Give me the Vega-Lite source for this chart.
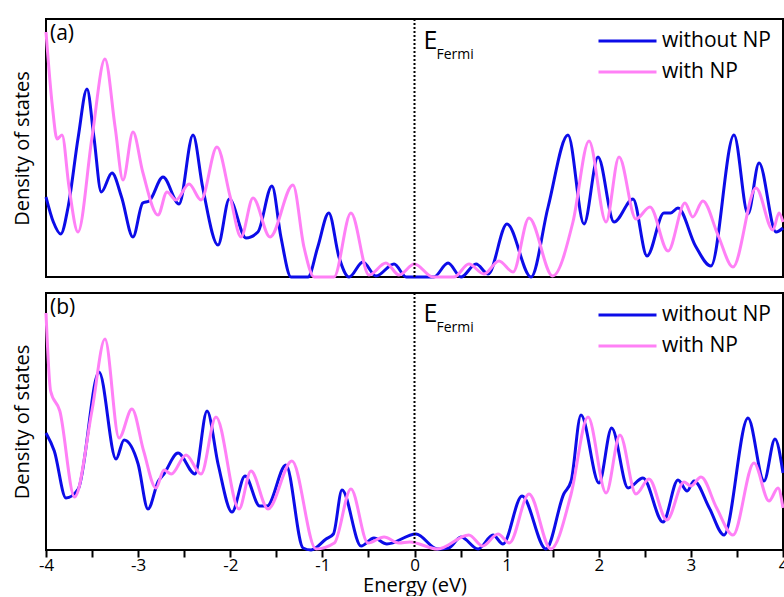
{
  "$schema": "https://vega.github.io/schema/vega-lite/v6.json",
  "background": "white",
  "padding": {"left": 11, "top": 17, "right": 2, "bottom": 0},
  "config": {
    "font": "Open Sans",
    "view": {"stroke": "black", "strokeWidth": 2},
    "axis": {"labelColor": "black", "titleColor": "black", "titleFontWeight": "normal", "grid": false},
    "concat": {"spacing": 7}
  },
  "datasets": {
    "a": [
      {"E": -4.0, "dos": 80, "s": "without NP"}, {"E": -3.92, "dos": 55, "s": "without NP"}, {"E": -3.84, "dos": 43, "s": "without NP"}, {"E": -3.76, "dos": 70, "s": "without NP"}, {"E": -3.65, "dos": 140, "s": "without NP"}, {"E": -3.555, "dos": 188, "s": "without NP"}, {"E": -3.48, "dos": 140, "s": "without NP"}, {"E": -3.40, "dos": 85, "s": "without NP"}, {"E": -3.284, "dos": 104, "s": "without NP"}, {"E": -3.18, "dos": 80, "s": "without NP"}, {"E": -3.056, "dos": 40, "s": "without NP"}, {"E": -2.95, "dos": 74, "s": "without NP"}, {"E": -2.88, "dos": 76, "s": "without NP"}, {"E": -2.73, "dos": 100, "s": "without NP"}, {"E": -2.556, "dos": 73, "s": "without NP"}, {"E": -2.404, "dos": 142, "s": "without NP"}, {"E": -2.30, "dos": 90, "s": "without NP"}, {"E": -2.133, "dos": 32, "s": "without NP"}, {"E": -2.01, "dos": 78, "s": "without NP"}, {"E": -1.829, "dos": 39, "s": "without NP"}, {"E": -1.70, "dos": 45, "s": "without NP"}, {"E": -1.547, "dos": 91, "s": "without NP"}, {"E": -1.45, "dos": 40, "s": "without NP"}, {"E": -1.34, "dos": 0, "s": "without NP"}, {"E": -1.156, "dos": 0, "s": "without NP"}, {"E": -1.05, "dos": 30, "s": "without NP"}, {"E": -0.93, "dos": 64, "s": "without NP"}, {"E": -0.82, "dos": 20, "s": "without NP"}, {"E": -0.71, "dos": 0, "s": "without NP"}, {"E": -0.56, "dos": 15, "s": "without NP"}, {"E": -0.418, "dos": 1, "s": "without NP"}, {"E": -0.222, "dos": 13, "s": "without NP"}, {"E": -0.09, "dos": 0, "s": "without NP"}, {"E": 0.21, "dos": 0, "s": "without NP"}, {"E": 0.364, "dos": 14, "s": "without NP"}, {"E": 0.505, "dos": 0, "s": "without NP"}, {"E": 0.668, "dos": 13, "s": "without NP"}, {"E": 0.80, "dos": 3, "s": "without NP"}, {"E": 1.004, "dos": 53, "s": "without NP"}, {"E": 1.265, "dos": 0, "s": "without NP"}, {"E": 1.45, "dos": 70, "s": "without NP"}, {"E": 1.666, "dos": 142, "s": "without NP"}, {"E": 1.84, "dos": 53, "s": "without NP"}, {"E": 1.992, "dos": 120, "s": "without NP"}, {"E": 2.166, "dos": 55, "s": "without NP"}, {"E": 2.372, "dos": 78, "s": "without NP"}, {"E": 2.524, "dos": 21, "s": "without NP"}, {"E": 2.708, "dos": 64, "s": "without NP"}, {"E": 2.78, "dos": 64, "s": "without NP"}, {"E": 2.86, "dos": 69, "s": "without NP"}, {"E": 3.05, "dos": 31, "s": "without NP"}, {"E": 3.218, "dos": 11, "s": "without NP"}, {"E": 3.468, "dos": 142, "s": "without NP"}, {"E": 3.62, "dos": 63, "s": "without NP"}, {"E": 3.74, "dos": 114, "s": "without NP"}, {"E": 3.924, "dos": 45, "s": "without NP"}, {"E": 4.0, "dos": 49, "s": "without NP"},
      {"E": -4.0, "dos": 245, "s": "with NP"}, {"E": -3.93, "dos": 170, "s": "with NP"}, {"E": -3.88, "dos": 138, "s": "with NP"}, {"E": -3.826, "dos": 142, "s": "with NP"}, {"E": -3.75, "dos": 90, "s": "with NP"}, {"E": -3.653, "dos": 45, "s": "with NP"}, {"E": -3.5, "dos": 140, "s": "with NP"}, {"E": -3.36, "dos": 218, "s": "with NP"}, {"E": -3.25, "dos": 150, "s": "with NP"}, {"E": -3.164, "dos": 97, "s": "with NP"}, {"E": -3.056, "dos": 145, "s": "with NP"}, {"E": -2.95, "dos": 105, "s": "with NP"}, {"E": -2.784, "dos": 62, "s": "with NP"}, {"E": -2.687, "dos": 85, "s": "with NP"}, {"E": -2.589, "dos": 77, "s": "with NP"}, {"E": -2.447, "dos": 93, "s": "with NP"}, {"E": -2.317, "dos": 77, "s": "with NP"}, {"E": -2.144, "dos": 130, "s": "with NP"}, {"E": -2.0, "dos": 80, "s": "with NP"}, {"E": -1.883, "dos": 40, "s": "with NP"}, {"E": -1.753, "dos": 79, "s": "with NP"}, {"E": -1.568, "dos": 40, "s": "with NP"}, {"E": -1.319, "dos": 92, "s": "with NP"}, {"E": -1.2, "dos": 30, "s": "with NP"}, {"E": -1.09, "dos": 0, "s": "with NP"}, {"E": -0.874, "dos": 0, "s": "with NP"}, {"E": -0.69, "dos": 64, "s": "with NP"}, {"E": -0.494, "dos": 2, "s": "with NP"}, {"E": -0.31, "dos": 14, "s": "with NP"}, {"E": -0.168, "dos": 2, "s": "with NP"}, {"E": 0.0, "dos": 13, "s": "with NP"}, {"E": 0.2, "dos": 0, "s": "with NP"}, {"E": 0.43, "dos": 0, "s": "with NP"}, {"E": 0.59, "dos": 13, "s": "with NP"}, {"E": 0.754, "dos": 3, "s": "with NP"}, {"E": 0.917, "dos": 16, "s": "with NP"}, {"E": 1.07, "dos": 5, "s": "with NP"}, {"E": 1.243, "dos": 59, "s": "with NP"}, {"E": 1.50, "dos": 1, "s": "with NP"}, {"E": 1.72, "dos": 55, "s": "with NP"}, {"E": 1.894, "dos": 136, "s": "with NP"}, {"E": 2.079, "dos": 55, "s": "with NP"}, {"E": 2.22, "dos": 120, "s": "with NP"}, {"E": 2.404, "dos": 58, "s": "with NP"}, {"E": 2.556, "dos": 70, "s": "with NP"}, {"E": 2.752, "dos": 26, "s": "with NP"}, {"E": 2.936, "dos": 74, "s": "with NP"}, {"E": 3.02, "dos": 60, "s": "with NP"}, {"E": 3.13, "dos": 76, "s": "with NP"}, {"E": 3.294, "dos": 42, "s": "with NP"}, {"E": 3.457, "dos": 10, "s": "with NP"}, {"E": 3.707, "dos": 89, "s": "with NP"}, {"E": 3.89, "dos": 47, "s": "with NP"}, {"E": 3.957, "dos": 64, "s": "with NP"}, {"E": 4.0, "dos": 55, "s": "with NP"}
    ],
    "b": [
      {"E": -4.0, "dos": 117, "s": "without NP"}, {"E": -3.91, "dos": 99, "s": "without NP"}, {"E": -3.783, "dos": 52, "s": "without NP"}, {"E": -3.65, "dos": 61, "s": "without NP"}, {"E": -3.424, "dos": 178, "s": "without NP"}, {"E": -3.24, "dos": 91, "s": "without NP"}, {"E": -3.153, "dos": 110, "s": "without NP"}, {"E": -3.0, "dos": 86, "s": "without NP"}, {"E": -2.893, "dos": 41, "s": "without NP"}, {"E": -2.78, "dos": 69, "s": "without NP"}, {"E": -2.72, "dos": 76, "s": "without NP"}, {"E": -2.567, "dos": 97, "s": "without NP"}, {"E": -2.383, "dos": 76, "s": "without NP"}, {"E": -2.252, "dos": 139, "s": "without NP"}, {"E": -2.13, "dos": 85, "s": "without NP"}, {"E": -1.981, "dos": 38, "s": "without NP"}, {"E": -1.84, "dos": 74, "s": "without NP"}, {"E": -1.68, "dos": 44, "s": "without NP"}, {"E": -1.6, "dos": 44, "s": "without NP"}, {"E": -1.395, "dos": 85, "s": "without NP"}, {"E": -1.21, "dos": 2, "s": "without NP"}, {"E": -1.123, "dos": 0, "s": "without NP"}, {"E": -0.96, "dos": 11, "s": "without NP"}, {"E": -0.88, "dos": 16, "s": "without NP"}, {"E": -0.787, "dos": 60, "s": "without NP"}, {"E": -0.58, "dos": 4, "s": "without NP"}, {"E": -0.44, "dos": 12, "s": "without NP"}, {"E": -0.3, "dos": 6, "s": "without NP"}, {"E": 0.016, "dos": 16, "s": "without NP"}, {"E": 0.25, "dos": 1, "s": "without NP"}, {"E": 0.37, "dos": 2, "s": "without NP"}, {"E": 0.505, "dos": 13, "s": "without NP"}, {"E": 0.69, "dos": 1, "s": "without NP"}, {"E": 0.852, "dos": 15, "s": "without NP"}, {"E": 0.96, "dos": 6, "s": "without NP"}, {"E": 1.167, "dos": 54, "s": "without NP"}, {"E": 1.427, "dos": 1, "s": "without NP"}, {"E": 1.62, "dos": 56, "s": "without NP"}, {"E": 1.70, "dos": 69, "s": "without NP"}, {"E": 1.807, "dos": 135, "s": "without NP"}, {"E": 2.003, "dos": 67, "s": "without NP"}, {"E": 2.14, "dos": 122, "s": "without NP"}, {"E": 2.318, "dos": 62, "s": "without NP"}, {"E": 2.48, "dos": 72, "s": "without NP"}, {"E": 2.697, "dos": 28, "s": "without NP"}, {"E": 2.86, "dos": 70, "s": "without NP"}, {"E": 2.96, "dos": 59, "s": "without NP"}, {"E": 3.034, "dos": 69, "s": "without NP"}, {"E": 3.2, "dos": 42, "s": "without NP"}, {"E": 3.36, "dos": 15, "s": "without NP"}, {"E": 3.62, "dos": 132, "s": "without NP"}, {"E": 3.794, "dos": 69, "s": "without NP"}, {"E": 3.913, "dos": 111, "s": "without NP"}, {"E": 4.0, "dos": 77, "s": "without NP"},
      {"E": -4.0, "dos": 237, "s": "with NP"}, {"E": -3.95, "dos": 159, "s": "with NP"}, {"E": -3.85, "dos": 139, "s": "with NP"}, {"E": -3.69, "dos": 53, "s": "with NP"}, {"E": -3.5, "dos": 140, "s": "with NP"}, {"E": -3.36, "dos": 211, "s": "with NP"}, {"E": -3.207, "dos": 112, "s": "with NP"}, {"E": -3.067, "dos": 141, "s": "with NP"}, {"E": -2.94, "dos": 99, "s": "with NP"}, {"E": -2.806, "dos": 62, "s": "with NP"}, {"E": -2.72, "dos": 80, "s": "with NP"}, {"E": -2.64, "dos": 76, "s": "with NP"}, {"E": -2.48, "dos": 95, "s": "with NP"}, {"E": -2.317, "dos": 76, "s": "with NP"}, {"E": -2.155, "dos": 133, "s": "with NP"}, {"E": -1.905, "dos": 41, "s": "with NP"}, {"E": -1.775, "dos": 79, "s": "with NP"}, {"E": -1.59, "dos": 41, "s": "with NP"}, {"E": -1.33, "dos": 89, "s": "with NP"}, {"E": -1.07, "dos": 1, "s": "with NP"}, {"E": -0.87, "dos": 7, "s": "with NP"}, {"E": -0.69, "dos": 61, "s": "with NP"}, {"E": -0.505, "dos": 7, "s": "with NP"}, {"E": -0.33, "dos": 13, "s": "with NP"}, {"E": -0.17, "dos": 7, "s": "with NP"}, {"E": -0.05, "dos": 8, "s": "with NP"}, {"E": 0.25, "dos": 1, "s": "with NP"}, {"E": 0.59, "dos": 15, "s": "with NP"}, {"E": 0.74, "dos": 4, "s": "with NP"}, {"E": 0.906, "dos": 16, "s": "with NP"}, {"E": 1.03, "dos": 7, "s": "with NP"}, {"E": 1.243, "dos": 56, "s": "with NP"}, {"E": 1.48, "dos": 1, "s": "with NP"}, {"E": 1.7, "dos": 56, "s": "with NP"}, {"E": 1.883, "dos": 133, "s": "with NP"}, {"E": 2.08, "dos": 57, "s": "with NP"}, {"E": 2.23, "dos": 115, "s": "with NP"}, {"E": 2.404, "dos": 56, "s": "with NP"}, {"E": 2.545, "dos": 71, "s": "with NP"}, {"E": 2.74, "dos": 30, "s": "with NP"}, {"E": 2.925, "dos": 68, "s": "with NP"}, {"E": 3.0, "dos": 64, "s": "with NP"}, {"E": 3.11, "dos": 73, "s": "with NP"}, {"E": 3.28, "dos": 42, "s": "with NP"}, {"E": 3.457, "dos": 15, "s": "with NP"}, {"E": 3.685, "dos": 87, "s": "with NP"}, {"E": 3.848, "dos": 49, "s": "with NP"}, {"E": 3.946, "dos": 62, "s": "with NP"}, {"E": 4.0, "dos": 42, "s": "with NP"}
    ]
  },
  "resolve": {"legend": {"color": "independent"}},
  "vconcat": [
    {
      "width": 737,
      "height": 258,
      "layer": [
        {
          "data": {"name": "a"},
          "mark": {"type": "line", "interpolate": "monotone", "strokeWidth": 3},
          "encoding": {
            "x": {"field": "E", "type": "quantitative", "scale": {"domain": [-4, 4], "nice": false, "zero": false}, "axis": null},
            "y": {"field": "dos", "type": "quantitative", "scale": {"domain": [0, 258], "nice": false},
                  "axis": {"title": "Density of states", "labels": false, "ticks": false, "domain": false, "titleFontSize": 20, "titlePadding": 14}},
            "color": {"field": "s", "type": "nominal",
                      "scale": {"domain": ["without NP", "with NP"], "range": ["#0c0ce8", "#ff80f6"]},
                      "legend": {"orient": "top-right", "title": null, "symbolType": "stroke", "symbolSize": 3364, "symbolStrokeWidth": 3, "labelFontSize": 21, "labelColor": "black", "clipHeight": 20, "rowPadding": 10, "offset": 12, "padding": 0, "labelOffset": 4}}
          }
        },
        {
          "data": {"values": [{}]},
          "mark": {"type": "rule", "strokeDash": [2, 2], "strokeWidth": 2, "color": "black"},
          "encoding": {"x": {"datum": 0}}
        },
        {
          "data": {"values": [{}]},
          "mark": {"type": "text", "align": "left", "baseline": "alphabetic", "dx": 4, "dy": 21, "fontSize": 21, "color": "black"},
          "encoding": {"x": {"datum": -4}, "y": {"datum": 258}, "text": {"value": "(a)"}}
        },
        {
          "data": {"values": [{}]},
          "mark": {"type": "text", "align": "left", "baseline": "alphabetic", "dx": 9, "dy": 30, "fontSize": 25, "color": "black"},
          "encoding": {"x": {"datum": 0}, "y": {"datum": 258}, "text": {"value": "E"}}
        },
        {
          "data": {"values": [{}]},
          "mark": {"type": "text", "align": "left", "baseline": "alphabetic", "dx": 22, "dy": 40, "fontSize": 14, "color": "black"},
          "encoding": {"x": {"datum": 0}, "y": {"datum": 258}, "text": {"value": "Fermi"}}
        }
      ]
    },
    {
      "width": 737,
      "height": 257,
      "layer": [
        {
          "data": {"name": "b"},
          "mark": {"type": "line", "interpolate": "monotone", "strokeWidth": 3},
          "encoding": {
            "x": {"field": "E", "type": "quantitative", "scale": {"domain": [-4, 4], "nice": false, "zero": false},
                  "axis": {"title": "Energy (eV)", "values": [-4, -3.5, -3, -2.5, -2, -1.5, -1, -0.5, 0, 0.5, 1, 1.5, 2, 2.5, 3, 3.5, 4],
                           "labelExpr": "datum.value % 1 === 0 ? '' + datum.value : ''", "tickSize": 7, "tickWidth": 2, "tickColor": "black",
                           "domain": false, "labelFontSize": 17, "titleFontSize": 20, "labelPadding": 0, "titlePadding": 2, "labelFlush": false, "labelOverlap": false}},
            "y": {"field": "dos", "type": "quantitative", "scale": {"domain": [0, 257], "nice": false},
                  "axis": {"title": "Density of states", "labels": false, "ticks": false, "domain": false, "titleFontSize": 20, "titlePadding": 14}},
            "color": {"field": "s", "type": "nominal",
                      "scale": {"domain": ["without NP", "with NP"], "range": ["#0c0ce8", "#ff80f6"]},
                      "legend": {"orient": "top-right", "title": null, "symbolType": "stroke", "symbolSize": 3364, "symbolStrokeWidth": 3, "labelFontSize": 21, "labelColor": "black", "clipHeight": 20, "rowPadding": 10, "offset": 12, "padding": 0, "labelOffset": 4}}
          }
        },
        {
          "data": {"values": [{}]},
          "mark": {"type": "rule", "strokeDash": [2, 2], "strokeWidth": 2, "color": "black"},
          "encoding": {"x": {"datum": 0}}
        },
        {
          "data": {"values": [{}]},
          "mark": {"type": "text", "align": "left", "baseline": "alphabetic", "dx": 4, "dy": 21, "fontSize": 21, "color": "black"},
          "encoding": {"x": {"datum": -4}, "y": {"datum": 257}, "text": {"value": "(b)"}}
        },
        {
          "data": {"values": [{}]},
          "mark": {"type": "text", "align": "left", "baseline": "alphabetic", "dx": 9, "dy": 29, "fontSize": 25, "color": "black"},
          "encoding": {"x": {"datum": 0}, "y": {"datum": 257}, "text": {"value": "E"}}
        },
        {
          "data": {"values": [{}]},
          "mark": {"type": "text", "align": "left", "baseline": "alphabetic", "dx": 22, "dy": 39, "fontSize": 14, "color": "black"},
          "encoding": {"x": {"datum": 0}, "y": {"datum": 257}, "text": {"value": "Fermi"}}
        }
      ]
    }
  ]
}
